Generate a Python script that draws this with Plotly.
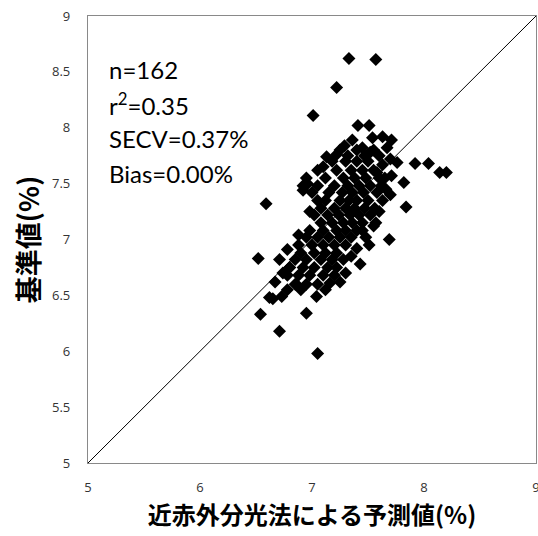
import plotly.graph_objects as go

# Predicted (NIR) values and reference values
pred = [
    7.33, 7.57, 7.22, 7.01,
    6.59, 6.54, 6.71, 7.05, 6.95, 6.65, 6.73, 7.04, 6.67, 7.16,
    7.92, 8.04, 8.14, 8.20, 7.84, 7.82, 7.71, 7.70, 7.69, 7.43, 7.51,
    6.52, 6.71, 6.88, 6.98,
    7.41, 7.51, 7.54, 7.63, 7.71, 7.67, 7.29, 7.36, 7.45, 7.13, 7.22, 7.10, 7.76, 7.63,
    7.18, 7.30, 7.40, 7.50,
    7.05, 7.22, 7.35, 7.45, 7.55,
    6.95, 7.12, 7.28, 7.38, 7.48, 7.60,
    6.92, 7.05, 7.20, 7.32, 7.42, 7.52, 7.62,
    7.00, 7.15, 7.27, 7.36, 7.46, 7.58,
    7.05, 7.12, 7.25, 7.33, 7.40, 7.50, 7.63,
    7.08, 7.20, 7.30, 7.38, 7.47, 7.56,
    7.02, 7.14, 7.24, 7.34, 7.42, 7.52,
    7.08, 7.18, 7.28, 7.36, 7.45, 7.57,
    6.98, 7.10, 7.22, 7.30, 7.40,
    6.95, 7.05, 7.15, 7.25, 7.35,
    6.88, 7.00, 7.10, 7.20, 7.30,
    6.90, 7.02, 7.12, 7.22,
    6.85, 6.95, 7.08, 7.18, 7.28,
    6.80, 6.92, 7.02, 7.14, 7.22,
    6.78, 6.88, 6.98, 7.10, 7.20,
    6.85, 6.95, 7.05,
    6.78, 7.12,
    7.25, 7.40, 7.55, 7.32, 7.47, 7.60,
    6.92, 6.96, 6.78, 6.80, 6.74, 6.62, 6.86, 6.90,
    7.65, 7.60, 7.55, 7.48, 7.40, 7.35, 7.58, 7.66, 7.52, 7.70, 7.30, 7.25, 7.45,
]
ref = [
    8.62, 8.61, 8.36, 8.11,
    7.32, 6.33, 6.18, 5.98, 6.34, 6.47, 6.49, 6.49, 6.62, 6.61,
    7.68, 7.68, 7.60, 7.60, 7.29, 7.51, 7.57, 7.40, 7.00, 6.78, 6.95,
    6.83, 6.82, 7.04, 7.25,
    8.02, 8.02, 7.91, 7.92, 7.89, 7.82, 7.84, 7.89, 7.82, 7.74, 7.76, 7.65, 7.69, 7.67,
    7.70, 7.70, 7.70, 7.70,
    7.62, 7.62, 7.62, 7.62, 7.62,
    7.55, 7.55, 7.55, 7.55, 7.55, 7.55,
    7.48, 7.48, 7.48, 7.48, 7.48, 7.48, 7.48,
    7.42, 7.42, 7.42, 7.42, 7.42, 7.42,
    7.35, 7.35, 7.35, 7.35, 7.35, 7.35, 7.35,
    7.28, 7.28, 7.28, 7.28, 7.28, 7.28,
    7.22, 7.22, 7.22, 7.22, 7.22, 7.22,
    7.15, 7.15, 7.15, 7.15, 7.15, 7.15,
    7.08, 7.08, 7.08, 7.08, 7.08,
    7.02, 7.02, 7.02, 7.02, 7.02,
    6.95, 6.95, 6.95, 6.95, 6.95,
    6.88, 6.88, 6.88, 6.88,
    6.82, 6.82, 6.82, 6.82, 6.82,
    6.75, 6.75, 6.75, 6.75, 6.75,
    6.68, 6.68, 6.68, 6.68, 6.68,
    6.60, 6.60, 6.60,
    6.55, 6.55,
    7.80, 7.80, 7.80, 7.75, 7.75, 7.75,
    7.44, 7.50, 6.91, 6.75, 6.70, 6.48, 6.60, 6.55,
    7.55, 7.25, 7.12, 7.02, 6.92, 6.85, 7.60, 7.45, 7.78, 7.72, 6.70, 6.62, 7.08,
]

axis_ticks = [5, 5.5, 6, 6.5, 7, 7.5, 8, 8.5, 9]
x_ticks = [5, 6, 7, 8, 9]
stats_lines = ["n=162", "r<sup>2</sup>=0.35", "SECV=0.37%", "Bias=0.00%"]
stats_y = [8.52, 8.21, 7.90, 7.59]

fig = go.Figure()
fig.add_trace(go.Scatter(x=[5, 9], y=[5, 9], mode="lines",
                         line=dict(color="black", width=1), hoverinfo="skip"))
fig.add_trace(go.Scatter(x=pred, y=ref, mode="markers",
                         marker=dict(symbol="diamond", size=10, color="black",
                                     line=dict(width=0))))

for t, yy in zip(stats_lines, stats_y):
    fig.add_annotation(x=5.17, y=yy, xref="x", yref="y", text=t, showarrow=False,
                       xanchor="left", yanchor="middle",
                       font=dict(family="Lato, Open Sans, sans-serif", size=24, color="black"))

tickfont = dict(family="Open Sans, sans-serif", size=13, color="#333333")
fig.update_layout(
    width=538, height=536,
    margin=dict(l=88, r=2, t=16, b=73, autoexpand=False),
    plot_bgcolor="white", paper_bgcolor="white",
    showlegend=False,
    xaxis=dict(range=[5, 9], tickvals=x_ticks, showgrid=False, zeroline=False,
               showline=True, linecolor="#898989", linewidth=1.3, mirror=True,
               ticks="", tickfont=tickfont, ticklabelstandoff=12,
               ticklabeloverflow="allow", automargin=False,
               title=dict(text="<b>近赤外分光法による予測値(%)</b>",
                          font=dict(family="Noto Sans CJK JP", size=24, color="black"),
                          standoff=6)),
    yaxis=dict(range=[5, 9], tickvals=axis_ticks, showgrid=False, zeroline=False,
               showline=True, linecolor="#898989", linewidth=1.3, mirror=True,
               ticks="", tickfont=tickfont, ticklabelstandoff=14,
               automargin=False,
               title=dict(text="<b>基準値(%)</b>",
                          font=dict(family="Noto Sans CJK JP", size=27, color="black"),
                          standoff=4)),
)

fig.write_html("out.html")
